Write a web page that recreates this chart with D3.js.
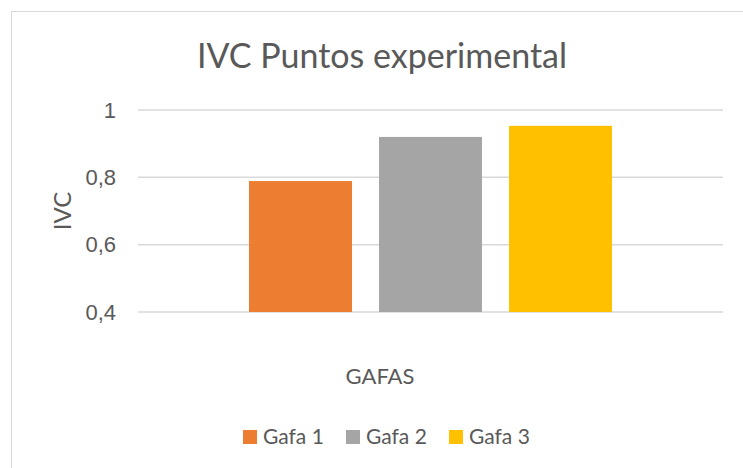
<!DOCTYPE html>
<html>
<head>
<meta charset="utf-8">
<script src="https://cdn.jsdelivr.net/npm/d3@7"></script>
<style>
  body { margin: 0; background: #fff; }
  svg { display: block; font-family: Lato, "Open Sans", sans-serif; }
</style>
</head>
<body>
<div id="chart"></div>
<script>
// data
const series = ["Gafa 1", "Gafa 2", "Gafa 3"]
const values = [0.789, 0.92, 0.953]
const colors = ["#ED7D31", "#A5A5A5", "#FFC000"]
const yTicks = [0.4, 0.6, 0.8, 1]
const title = "IVC Puntos experimental"
const xTitle = "GAFAS"
const yTitle = "IVC"

const W = 743, H = 468
const margin = { top: 110, right: 20, bottom: 156, left: 138 }
const width = W - margin.left - margin.right
const height = H - margin.top - margin.bottom

const svg = d3.select("#chart").append("svg")
    .attr("width", W)
    .attr("height", H)

// chart area border
svg.append("rect")
    .attr("x", 11.5).attr("y", 11.5)
    .attr("width", W + 20).attr("height", H + 20)
    .attr("fill", "none")
    .attr("stroke", "#d9d9d9")
    .attr("stroke-width", 1)

const g = svg.append("g")
    .attr("transform", "translate(" + margin.left + "," + margin.top + ")")

const x = d3.scaleBand()
    .domain(series)
    .range([0, width])
    .paddingInner(0.208)
    .paddingOuter(0.854)

const y = d3.scaleLinear()
    .domain([0.4, 1])
    .range([height, 0])

const fmt = d => String(d).replace(".", ",")

// gridlines
g.append("g")
    .selectAll("line")
    .data(yTicks)
    .join("line")
    .attr("x1", 0).attr("x2", width)
    .attr("y1", d => y(d)).attr("y2", d => y(d))
    .attr("stroke", "#d9d9d9")
    .attr("stroke-width", 1.5)

// y axis labels
const yAxis = d3.axisLeft(y).tickValues(yTicks).tickFormat(fmt).tickSize(0).tickPadding(22)
const ya = g.append("g").call(yAxis)
ya.select(".domain").remove()
ya.selectAll("text")
    .attr("fill", "#595959")
    .style("font-size", "22px")

// bars
g.selectAll("rect.bar")
    .data(series)
    .join("rect")
    .attr("class", "bar")
    .attr("x", d => x(d))
    .attr("width", x.bandwidth())
    .attr("y", (d, i) => y(values[i]))
    .attr("height", (d, i) => y(0.4) - y(values[i]))
    .attr("fill", (d, i) => colors[i])

// title
svg.append("text")
    .attr("x", 382).attr("y", 68)
    .attr("text-anchor", "middle")
    .attr("fill", "#595959")
    .style("font-size", "34px")
    .text(title)

// axis titles
svg.append("text")
    .attr("x", 380).attr("y", 384)
    .attr("text-anchor", "middle")
    .attr("fill", "#595959")
    .style("font-size", "22px")
    .text(xTitle)

svg.append("text")
    .attr("transform", "translate(71,211) rotate(-90)")
    .attr("text-anchor", "middle")
    .attr("fill", "#595959")
    .style("font-size", "24px")
    .text(yTitle)

// legend
const legendX = [243, 346, 449]
const legend = svg.append("g")
    .selectAll("g")
    .data(series)
    .join("g")
    .attr("transform", (d, i) => "translate(" + legendX[i] + ",430)")
legend.append("rect")
    .attr("width", 14).attr("height", 14)
    .attr("fill", (d, i) => colors[i])
legend.append("text")
    .attr("x", 20).attr("y", 14)
    .attr("fill", "#595959")
    .style("font-size", "21px")
    .text(d => d)
</script>
</body>
</html>
